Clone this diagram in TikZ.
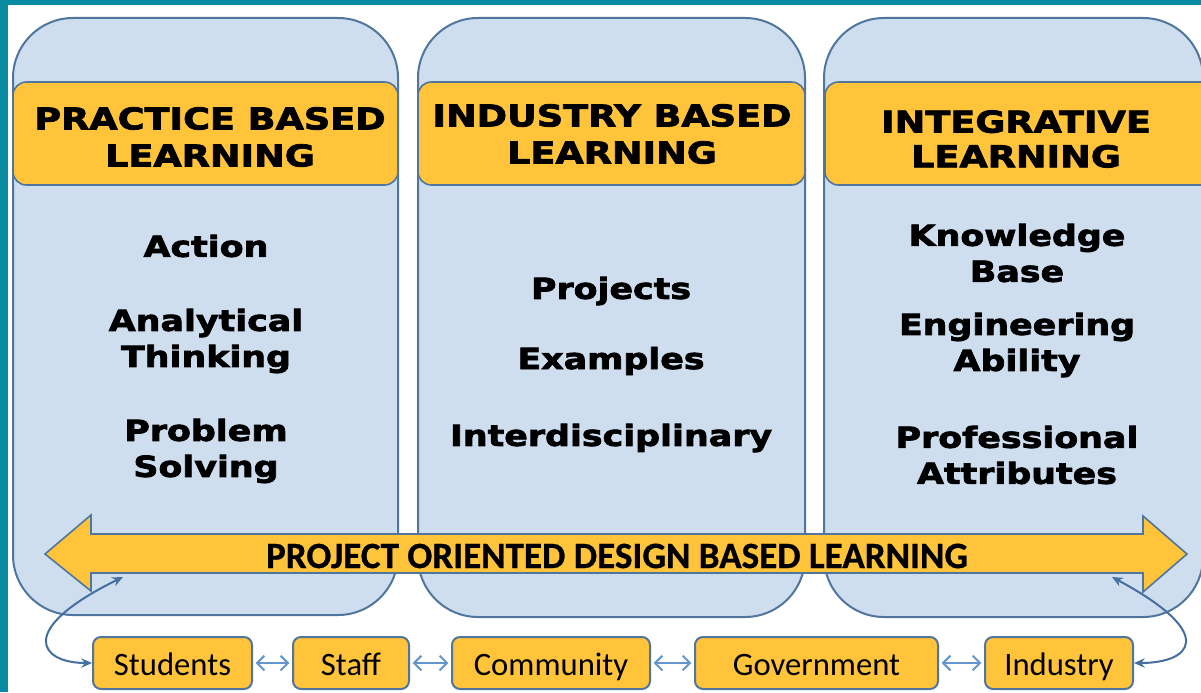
\documentclass[tikz,border=0pt]{standalone}
\usepackage{fontspec}
\setmainfont{Carlito}
\newfontfamily\hfont{DejaVu Sans}[FakeStretch=1.22,FakeBold=2.6]
\newfontfamily\bfont{DejaVu Sans}[FakeStretch=1.2,FakeBold=2.6]
\newfontfamily\pfont{Carlito}[FakeBold=0.8]
\usetikzlibrary{arrows.meta}
\definecolor{teal0}{RGB}{8,139,160}
\definecolor{edge}{RGB}{80,118,158}
\definecolor{orng}{RGB}{255,196,58}
\definecolor{colfill}{RGB}{206,222,239}
\definecolor{lblue}{RGB}{100,150,205}
\definecolor{dblue}{RGB}{70,110,160}
\begin{document}
\begin{tikzpicture}[x=0.75pt,y=-0.75pt,
 col/.style={draw=edge, line width=1.5pt, fill=colfill, rounded corners=45pt, inner sep=0pt},
 hdr/.style={draw=edge, line width=1.2pt, fill=orng, rounded corners=10pt, inner sep=0pt},
 htext/.style={align=center, inner sep=0pt, font=\hfont\bfseries\fontsize{22.5}{27.75}\selectfont},
 item/.style={align=center, inner sep=0pt, font=\bfont\bfseries\fontsize{21.75}{27}\selectfont},
 who/.style={draw=edge, line width=1.5pt, fill=orng, rounded corners=6pt, minimum height=39pt, inner sep=0pt,
   text height=22pt, text depth=4pt, font=\fontsize{24.5}{28}\selectfont},
 link/.style={draw=lblue, line width=1.5pt, {Straight Barb[length=5.5pt,width=11pt]}-{Straight Barb[length=5.5pt,width=11pt]},
   shorten <=2pt, shorten >=2pt},
 curv/.style={draw=dblue, line width=1.5pt, {Stealth[length=8pt,width=7pt]}-{Stealth[length=8pt,width=7pt]}},
 bigarrow/.style={draw=edge, fill=orng, line width=1.2pt, line join=miter}
]
\clip (0,0) rectangle (1201,692);
\fill[white] (0,0) rectangle (1201,692);
\fill[teal0] (0,0) rectangle (1201,5);
\fill[teal0] (0,0) rectangle (8,692);

% columns
\node[col, minimum width=288.75pt, minimum height=447.75pt] (c1) at (205.5,316.5) {};
\node[col, minimum width=290.25pt, minimum height=449.25pt] (c2) at (611.5,317.5) {};
\node[col, minimum width=284.25pt, minimum height=449.25pt] (c3) at (1013.5,317.5) {};

% headers
\node[hdr, minimum width=288.75pt, minimum height=77.25pt] (h1) at (205.5,133.5) {};
\node[hdr, minimum width=290.25pt, minimum height=77.25pt] (h2) at (611.5,133.5) {};
\node[hdr, minimum width=292.5pt, minimum height=77.25pt] (h3) at (1020,133.5) {};
\node[htext] (t1) at (210,137) {PRACTICE BASED\\LEARNING};
\node[htext] (t2) at (612,134) {INDUSTRY BASED\\LEARNING};
\node[htext, font=\hfont\bfseries\fontsize{22.5}{26}\selectfont] (t3) at (1016,139) {INTEGRATIVE\\LEARNING};

% column items
\node[item] (a1) at (206,246) {Action};
\node[item] (a2) at (206,341) {Analytical\\Thinking};
\node[item] (a3) at (206,451) {Problem\\Solving};
\node[item] (b1) at (611,291) {Projects};
\node[item] (b2) at (611,361) {Examples};
\node[item] (b3) at (611,438) {Interdisciplinary};
\node[item] (d1) at (1017,253) {Knowledge\\Base};
\node[item] (d2) at (1017,345) {Engineering\\Ability};
\node[item] (d3) at (1017,455) {Professional\\Attributes};

% big double arrow
\draw[bigarrow] (45,554) -- (91,515) -- (91,534) -- (1143,534) -- (1143,516) -- (1187,554)
  -- (1143,592) -- (1143,573) -- (91,573) -- (91,591) -- cycle;
\node[inner sep=0pt, font=\pfont\bfseries\fontsize{27.8}{30}\selectfont] (pod) at (617,556) {PROJECT ORIENTED DESIGN BASED LEARNING};

% stakeholders
\node[who, minimum width=119.25pt] (stu) at (172.5,663) {Students};
\node[who, minimum width=87pt] (stf) at (351,663) {Staff};
\node[who, minimum width=148.5pt] (com) at (551,663) {Community};
\node[who, minimum width=182.25pt] (gov) at (816.5,663) {Government};
\node[who, minimum width=111pt] (ind) at (1059,663) {Industry};

\draw[link] (stu) -- (stf);
\draw[link] (stf) -- (com);
\draw[link] (com) -- (gov);
\draw[link] (gov) -- (ind);

\coordinate (lA) at (123,577);
\coordinate (rA) at (1112,577);
\draw[curv] (lA) .. controls (15,630) and (40,663) .. (stu.west);
\draw[curv] (rA) .. controls (1220,635) and (1190,663) .. (ind.east);
\end{tikzpicture}
\end{document}
